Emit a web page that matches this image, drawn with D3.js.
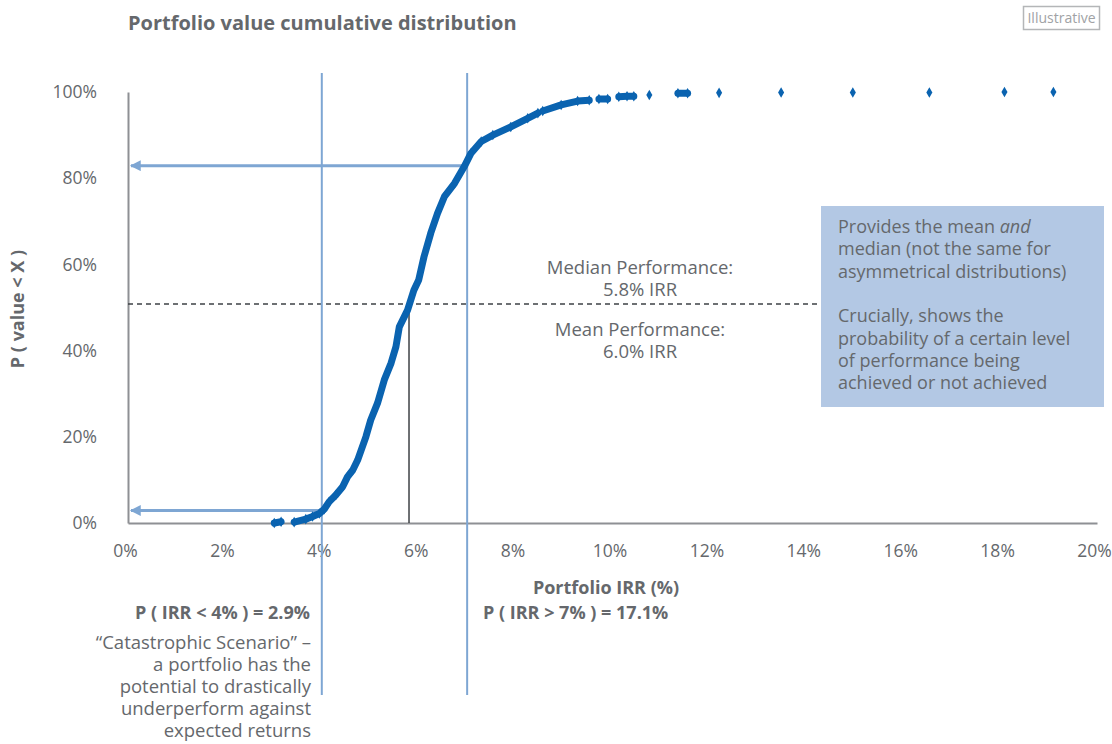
<!DOCTYPE html>
<html>
<head>
<meta charset="utf-8">
<script src="https://cdn.jsdelivr.net/npm/d3@7"></script>
<style>
  body { margin: 0; background: #fff; }
  svg text { font-family: "Open Sans", "Noto Sans", sans-serif; fill: #65686c; }
</style>
</head>
<body>
<div id="chart"></div>
<script>
var width = 1112,
    height = 744;

// x ticks and y ticks
var xTicks = [0, 0.02, 0.04, 0.06, 0.08, 0.10, 0.12, 0.14, 0.16, 0.18, 0.20];
var yTicks = [0, 0.2, 0.4, 0.6, 0.8, 1.0];

// simulated portfolio IRR (%) vs cumulative probability
// runs of points that touch each other are drawn joined
var cdfRuns = [
  [[3.02, 0.000], [3.16, 0.003]],
  [[3.43, 0.002], [3.67, 0.009], [3.81, 0.015], [3.95, 0.022], [4.05, 0.032], [4.15, 0.049],
   [4.29, 0.065], [4.43, 0.084], [4.53, 0.107], [4.64, 0.123], [4.74, 0.146], [4.91, 0.200],
   [5.01, 0.239], [5.15, 0.278], [5.29, 0.332], [5.43, 0.371], [5.53, 0.409], [5.60, 0.455],
   [5.77, 0.494], [5.90, 0.540], [6.00, 0.564], [6.11, 0.618], [6.25, 0.673], [6.39, 0.719],
   [6.53, 0.757], [6.74, 0.788], [6.94, 0.827], [7.08, 0.858], [7.29, 0.885], [7.53, 0.900],
   [7.90, 0.919], [8.25, 0.939], [8.46, 0.951]],
  [[8.56, 0.956], [8.94, 0.970], [9.28, 0.979], [9.52, 0.981]],
  [[9.72, 0.984], [9.90, 0.984]],
  [[10.13, 0.989], [10.30, 0.990], [10.44, 0.990]],
  [[10.76, 0.993]],
  [[11.35, 0.997], [11.55, 0.997]],
  [[12.2, 0.998]],
  [[13.48, 0.999]],
  [[14.96, 0.999]],
  [[16.54, 0.999]],
  [[18.09, 1.0]],
  [[19.1, 1.0]]
];

var lowCut = 0.04, pLow = 0.029;     // P(IRR < 4%)
var highCut = 0.07, pHigh = 0.171;   // P(IRR > 7%)
var medianIrr = 0.058, meanIrr = 0.060;

var svg = d3.select("#chart")
    .append("svg")
    .attr("width", width)
    .attr("height", height);

var x = d3.scaleLinear().domain([0, 0.20]).range([128, 1097]);
var y = d3.scaleLinear().domain([0, 1]).range([523, 92]);

var blue = "#0a63b0",
    guide = "#7ea6d3",
    axisGrey = "#8e9094";

// title + tag
svg.append("text")
    .attr("x", 128).attr("y", 30)
    .style("font-size", "20px").style("font-weight", "bold")
    .text("Portfolio value cumulative distribution");

svg.append("rect")
    .attr("x", 1023.5).attr("y", 6.5).attr("width", 76).attr("height", 23)
    .attr("fill", "none").attr("stroke", "#b4b6b8").attr("stroke-width", 1.5);
svg.append("text")
    .attr("x", 1061.5).attr("y", 23).attr("text-anchor", "middle")
    .style("font-size", "14px").style("fill", "#a0a2a5")
    .text("Illustrative");

// axes
var xAxis = svg.append("g")
    .attr("transform", "translate(0," + y(0) + ")")
    .call(d3.axisBottom(x).tickValues(xTicks).tickSize(0).tickFormat(d3.format(".0%")));
xAxis.selectAll("text").attr("y", 22).attr("dx", -3).style("font-size", "17.5px");

var yAxis = svg.append("g")
    .attr("transform", "translate(" + x(0) + ",0)")
    .call(d3.axisLeft(y).tickValues(yTicks).tickSize(0).tickFormat(d3.format(".0%")));
yAxis.selectAll("text").attr("x", -31).style("font-size", "17.5px");

svg.selectAll(".domain").attr("stroke", axisGrey).attr("stroke-width", 2);
svg.selectAll(".tick text").style("fill", "#65686c").attr("font-family", null);

svg.append("text")
    .attr("transform", "translate(24,309) rotate(-90)")
    .attr("text-anchor", "middle")
    .style("font-size", "18px").style("font-weight", "bold")
    .text("P ( value < X )");

svg.append("text")
    .attr("x", 606).attr("y", 594).attr("text-anchor", "middle")
    .style("font-size", "18px").style("font-weight", "bold")
    .text("Portfolio IRR (%)");

// median dashed line + drop line
svg.append("line")
    .attr("x1", x(0)).attr("x2", 820)
    .attr("y1", y(0.508)).attr("y2", y(0.508))
    .attr("stroke", "#3e4145").attr("stroke-width", 1.5).attr("stroke-dasharray", "5,4");
svg.append("line")
    .attr("x1", x(medianIrr)).attr("x2", x(medianIrr))
    .attr("y1", y(0.508)).attr("y2", y(0))
    .attr("stroke", "#3e4145").attr("stroke-width", 1.5);

// threshold guides
svg.selectAll(".guide")
    .data([lowCut, highCut])
    .enter().append("line")
    .attr("class", "guide")
    .attr("x1", d => x(d)).attr("x2", d => x(d))
    .attr("y1", 73).attr("y2", 695)
    .attr("stroke", guide).attr("stroke-width", 2);

svg.append("defs").append("marker")
    .attr("id", "head")
    .attr("viewBox", "0 0 10 10")
    .attr("refX", 9).attr("refY", 5)
    .attr("markerWidth", 5).attr("markerHeight", 3.6)
    .attr("markerUnits", "strokeWidth")
    .attr("orient", "auto")
    .append("path")
    .attr("d", "M0,0 L10,5 L0,10 Z")
    .attr("fill", guide);

svg.selectAll(".arrow")
    .data([[lowCut, pLow], [highCut, 1 - pHigh]])
    .enter().append("line")
    .attr("class", "arrow")
    .attr("x1", d => x(d[0])).attr("x2", x(0) + 3)
    .attr("y1", d => y(d[1])).attr("y2", d => y(d[1]))
    .attr("stroke", guide).attr("stroke-width", 3)
    .attr("marker-end", "url(#head)");

// the distribution itself
var line = d3.line()
    .x(d => x(d[0] / 100))
    .y(d => y(d[1]));

svg.selectAll(".run")
    .data(cdfRuns.filter(r => r.length > 1))
    .enter().append("path")
    .attr("class", "run")
    .attr("d", line)
    .attr("fill", "none")
    .attr("stroke", blue)
    .attr("stroke-width", 7)
    .attr("stroke-linecap", "round")
    .attr("stroke-linejoin", "round");

svg.selectAll(".pt")
    .data(cdfRuns.flat())
    .enter().append("path")
    .attr("class", "pt")
    .attr("transform", d => "translate(" + x(d[0] / 100) + "," + y(d[1]) + ")")
    .attr("d", d3.symbol().type(d3.symbolDiamond).size(32))
    .attr("fill", blue);

// annotations
function block(lines, ax, ay, anchor, size, lh) {
  var t = svg.append("text")
      .attr("text-anchor", anchor)
      .style("font-size", size + "px");
  lines.forEach(function(l, i) {
    var ts = t.append("tspan").attr("x", ax).attr("y", ay + i * lh);
    if (typeof l === "string") ts.text(l);
    else l.forEach(function(part) {
      ts.append("tspan").style("font-style", part.i ? "italic" : null).text(part.t);
    });
  });
  return t;
}

block(["Median Performance:", d3.format(".1%")(medianIrr) + " IRR"], 640, 274, "middle", 18.5, 21.5);
block(["Mean Performance:", d3.format(".1%")(meanIrr) + " IRR"], 640, 336, "middle", 18.5, 21.5);

svg.append("text")
    .attr("x", 310).attr("y", 619).attr("text-anchor", "end")
    .style("font-size", "18px").style("font-weight", "bold")
    .text("P ( IRR < 4% ) = " + d3.format(".1%")(pLow));
svg.append("text")
    .attr("x", 483).attr("y", 619)
    .style("font-size", "18px").style("font-weight", "bold")
    .text("P ( IRR > 7% ) = " + d3.format(".1%")(pHigh));

block(["\u201CCatastrophic Scenario\u201D \u2013", "a portfolio has the", "potential to drastically",
       "underperform against", "expected returns"], 311, 649, "end", 18.5, 22.1);

svg.append("rect")
    .attr("x", 821).attr("y", 206).attr("width", 283).attr("height", 201)
    .attr("fill", "#b3c8e4");
block([[{t: "Provides the mean "}, {t: "and", i: true}], "median (not the same for",
       "asymmetrical distributions)", "", "Crucially, shows the",
       "probability of a certain level", "of performance being",
       "achieved or not achieved"], 838, 233, "start", 18, 22.3);
</script>
</body>
</html>
